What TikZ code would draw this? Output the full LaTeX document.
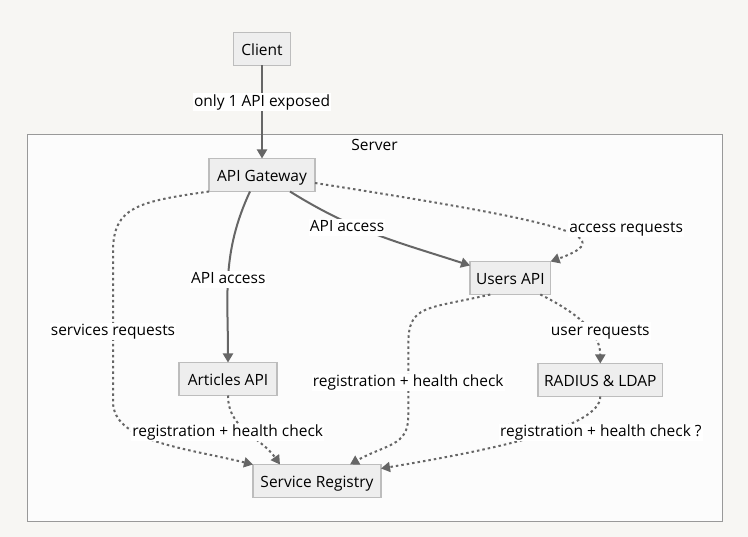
\documentclass[tikz,border=0pt]{standalone}
\usepackage{fontspec}
\setmainfont{Open Sans}
\usetikzlibrary{positioning}
\usetikzlibrary{fit}
\usetikzlibrary{arrows.meta}

\definecolor{pagebg}{HTML}{F7F6F3}
\definecolor{srvfill}{HTML}{FCFCFC}
\definecolor{srvline}{HTML}{999999}
\definecolor{boxfill}{HTML}{EEEEEE}
\definecolor{boxline}{HTML}{BDBDBD}
\definecolor{edgecol}{HTML}{666666}

\begin{document}
\begin{tikzpicture}[
    x=1pt, y=1pt,
    font=\fontsize{15.5}{18}\selectfont,
    sbox/.style={draw=boxline, line width=1.3pt, fill=boxfill, inner xsep=6pt, inner ysep=0, outer sep=0, minimum height=33pt, text height=13.5pt, text depth=0pt},
    lbl/.style={fill=white, inner sep=1pt, text height=12pt, text depth=3.5pt, yshift=-2pt},
    sedge/.style={-{Triangle[length=9pt,width=10pt]}, line width=2pt, draw=edgecol},
    dedge/.style={sedge, dash pattern=on 2.5pt off 3pt}
]

% Page
\useasboundingbox (0,0) rectangle (748,-537);
\fill[pagebg] (0,0) rectangle (748,-537);

% Server
\coordinate (srvnw) at (27,-135);
\coordinate (srvse) at (722,-522);
\node[draw=srvline, line width=1pt, fill=srvfill, fit=(srvnw)(srvse), inner sep=0] (server) {};
\node[below=2pt of server.north, inner sep=0, text height=13.5pt, text depth=0pt] (srvlabel) {Server};

% Services
\node[sbox, minimum width=57pt] (client) at (262,-49) {Client};
\node[sbox, minimum width=106pt, below=93pt of client] (gw) {API Gateway};
\node[sbox, minimum width=80pt, below right=70pt and 155pt of gw] (users) {Users API};
\node[sbox, minimum width=98pt, below=171pt of gw, xshift=-34pt] (arts) {Articles API};
\node[sbox, minimum width=123pt, below=69pt of users, xshift=90pt] (radius) {RADIUS \& LDAP};
\node[sbox, minimum width=128pt, below=69pt of arts, xshift=89pt] (reg) {Service Registry};

% API access
\draw [sedge] (client) -- node[lbl, pos=0.37] {only 1 API exposed} (gw);
\draw [sedge] ([xshift=-12pt]gw.south) to[out=-115, in=90] node[lbl, yshift=-3pt] {API access} (arts.north);
\draw [sedge] ([xshift=28pt]gw.south) to[out=-32, in=162] node[lbl, pos=0.32, yshift=-3pt] {API access} ([yshift=-4pt]users.north west);

% requests
\draw [dedge] ([yshift=-8pt]gw.east) .. controls +(255,-40) and +(70,25) .. 
    node[lbl, pos=0.6, anchor=west, yshift=8pt, xshift=-4pt] {access requests} (users.north east);
\draw [dedge] (gw.south west) .. controls +(-70,-10) and +(0,45) .. ++(-96,-60) 
    -- node[lbl, pos=0.52] {services requests} ++(0,-150) 
    .. controls +(0,-40) and +(-70,17) .. (reg.north west);
\draw [dedge] ([xshift=30pt]users.south) .. controls +(40,-20) and +(0,30) .. 
    node[lbl, xshift=15pt, yshift=-4pt] {user requests} (radius.north);

% registration
\draw [dedge] (arts.south) to[out=-90, in=125] 
    node[lbl, pos=0.4, xshift=-13pt, yshift=-4pt] {registration + health check} ([xshift=-37pt]reg.north);
\draw [dedge] ([xshift=-20pt]users.south) .. controls +(-65,-15) and +(0,40) .. ++(-82,-50) 
    -- node[lbl] {registration + health check} ++(0,-72) 
    .. controls +(0,-30) and +(35,20) .. ([xshift=33pt]reg.north);
\draw [dedge] (radius.south) .. controls +(0,-30) and +(120,20) .. 
    node[lbl, pos=0.25, xshift=18pt, yshift=-13pt] {registration + health check ?} ([yshift=-4pt]reg.north east);

\end{tikzpicture}
\end{document}
